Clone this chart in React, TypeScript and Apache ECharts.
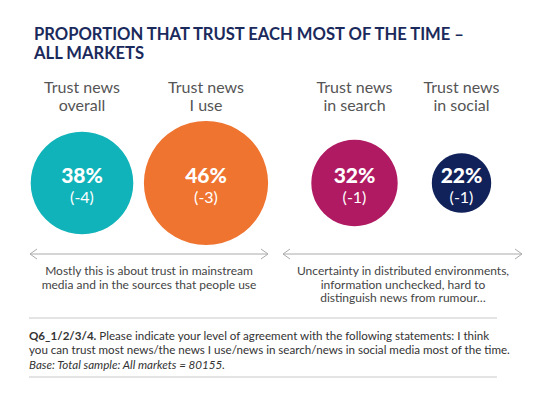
import React, { useEffect, useRef } from "react";
import * as echarts from "echarts";

const categories = ["Trust news\noverall", "Trust news\nI use", "Trust news\nin search", "Trust news\nin social"];
const trustPct = [38, 46, 32, 22];
const changeVsLastYear = [-4, -3, -1, -1];
const leftGroup = [0, 1];
const rightGroup = [2, 3];
const captionLeft = "Mostly this is about trust in mainstream\nmedia and in the sources that people use";
const captionRight = "Uncertainty in distributed environments,\ninformation unchecked, hard to\ndistinguish news from rumour…";
const titleText = "PROPORTION THAT TRUST EACH MOST OF THE TIME –\nALL MARKETS";
const noteQ = "Q6_1/2/3/4.";
const noteText1 = " Please indicate your level of agreement with the following statements: I think";
const noteText2 = "you can trust most news/the news I use/news in search/news in social media most of the time.";
const noteBase = "Base: Total sample: All markets = 80155.";

const COLORS = ["#10b3b9", "#ef7430", "#b01a62", "#11225a"];
const FONT = "Lato";

export default function App() {
  const ref = useRef<HTMLDivElement>(null);
  useEffect(() => {
    document.body.style.margin = "0";
    const chart = echarts.init(ref.current!, null, { renderer: "svg" });
    const mkData = (idx: number[]) =>
      idx.map((i, k) => ({
        value: [k, 0, trustPct[i], changeVsLastYear[i]],
        itemStyle: { color: COLORS[i] },
      }));
    const axisX = (g: number, idx: number[]) => ({
      gridIndex: g,
      type: "category",
      data: idx.map((i) => categories[i]),
      position: "top",
      axisLine: { show: false },
      axisTick: { show: false },
      splitLine: { show: false },
      axisLabel: { fontFamily: FONT, fontSize: 16, lineHeight: 18, color: "#555", margin: 5 },
    });
    const axisY = (g: number) => ({ gridIndex: g, type: "value", min: -1, max: 1, show: false });
    const label = {
      show: true,
      position: "inside",
      formatter: (p: any) => `{a|${p.value[2]}%}\n{b|(${p.value[3]})}`,
      rich: {
        a: { fontFamily: FONT, fontSize: 21, fontWeight: 900, color: "#fff", lineHeight: 22 },
        b: { fontFamily: FONT, fontSize: 16, color: "#fff", lineHeight: 22 },
      },
      offset: [0, 2],
    };
    const series = [leftGroup, rightGroup].map((idx, g) => ({
      type: "scatter",
      xAxisIndex: g,
      yAxisIndex: g,
      data: mkData(idx),
      symbolSize: (v: number[]) => v[2] * 2.7,
      itemStyle: { opacity: 1 },
      label,
      emphasis: { disabled: true },
    }));
    const arrow = (x1: number, x2: number, y: number) => [
      { type: "line", shape: { x1, y1: y, x2, y2: y }, style: { stroke: "#aaa", lineWidth: 1 } },
      { type: "polyline", shape: { points: [[x1 + 7, y - 5], [x1, y], [x1 + 7, y + 5]] }, style: { stroke: "#aaa", lineWidth: 1, fill: null } },
      { type: "polyline", shape: { points: [[x2 - 7, y - 5], [x2, y], [x2 - 7, y + 5]] }, style: { stroke: "#aaa", lineWidth: 1, fill: null } },
    ];
    const noteSize = 11.6;
    chart.setOption({
      animation: false,
      title: {
        text: titleText,
        left: 29,
        top: 19,
        textStyle: { fontFamily: FONT, fontSize: 16.6, fontWeight: "bold", color: "#1b2a5c", lineHeight: 19 },
      },
      grid: [
        { left: 20, width: 248, top: 118, height: 130 },
        { left: 301, width: 214, top: 118, height: 130 },
      ],
      xAxis: [axisX(0, leftGroup), axisX(1, rightGroup)],
      yAxis: [axisY(0), axisY(1)],
      series,
      graphic: [
        ...arrow(30, 268, 254),
        ...arrow(283, 522, 254),
        {
          type: "text", x: 149, y: 264,
          style: { text: captionLeft, fontFamily: FONT, fontSize: 12, lineHeight: 13.5, fill: "#444", align: "center" },
        },
        {
          type: "text", x: 403, y: 264,
          style: { text: captionRight, fontFamily: FONT, fontSize: 12, lineHeight: 13.5, fill: "#444", align: "center" },
        },
        { type: "line", shape: { x1: 29, y1: 318, x2: 497, y2: 318 }, style: { stroke: "#c8c8c8", lineWidth: 1 } },
        { type: "line", shape: { x1: 29, y1: 377, x2: 497, y2: 377 }, style: { stroke: "#c8c8c8", lineWidth: 1 } },
        {
          type: "text", x: 29, y: 328,
          style: {
            text: `{q|${noteQ}}{t|${noteText1}}\n{t|${noteText2}}\n{i|${noteBase}}`,
            rich: {
              q: { fontFamily: FONT, fontSize: noteSize, fontWeight: "bold", fill: "#333", lineHeight: 14.5 },
              t: { fontFamily: FONT, fontSize: noteSize, fill: "#333", lineHeight: 14.5 },
              i: { fontFamily: FONT, fontSize: noteSize, fontStyle: "italic", fill: "#333", lineHeight: 14.5 },
            },
          },
        },
      ],
    });
    return () => chart.dispose();
  }, []);
  return <div ref={ref} style={{ width: 548, height: 398 }} />;
}
